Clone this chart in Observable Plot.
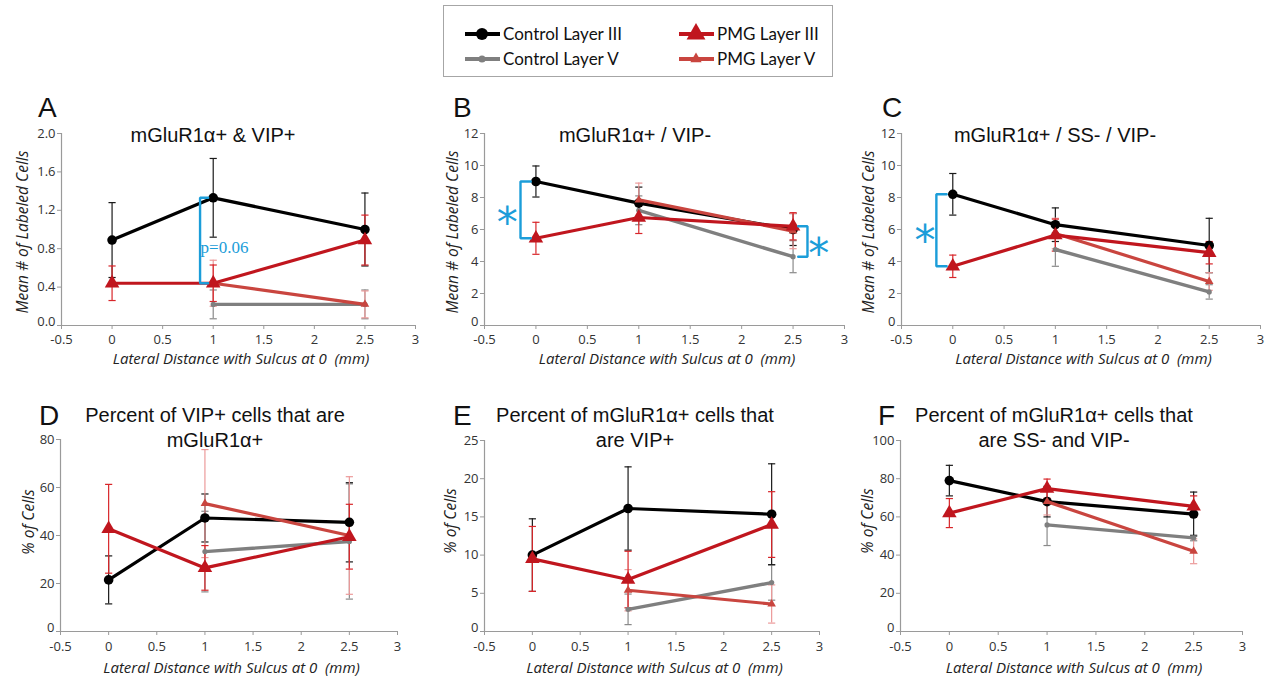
<!DOCTYPE html>
<html><head><meta charset="utf-8">
<script src="https://cdn.jsdelivr.net/npm/d3@7"></script>
<script src="https://cdn.jsdelivr.net/npm/@observablehq/plot@0.6"></script>
<style>
html,body{margin:0;padding:0;background:#fff;overflow:hidden;}
#root{position:relative;width:1270px;height:676px;font-family:"Liberation Sans",Arial,sans-serif;color:#111;}
.abs{position:absolute;white-space:pre;}
.letter{font-size:28px;line-height:28px;color:#111;}
.title{font-size:20px;line-height:25px;color:#111;text-align:center;transform:translateX(-50%);}
.ylab{font-family:"Open Sans",sans-serif;font-style:italic;font-size:15.5px;line-height:16px;color:#222;transform:translate(-50%,-50%) rotate(-90deg);}
.xlab{font-family:"Open Sans",sans-serif;font-style:italic;font-size:15px;line-height:16px;color:#222;transform:translate(-50%,-50%);}
.panel svg [aria-label^="x-axis"] path,.panel svg [aria-label^="y-axis"] path,
.panel svg [aria-label^="x-axis"] line,.panel svg [aria-label^="y-axis"] line{stroke:#9a9a9a;}
</style></head>
<body><div id="root"></div>
<script>
// ---------- data ----------
const distances = [0, 1, 2.5];
const seriesNames = ["Control Layer III", "Control Layer V", "PMG Layer III", "PMG Layer V"];
const seriesColors = ["#000000", "#7f7f7f", "#c0161e", "#c9453f"];
const errColors = ["#1a1a1a", "#8a8a8a", "#d8262a", "#ec9a9a"];
const seriesSymbols = ["circle", "circle", "triangle", "triangle"];
const markerR = [4.8, 2.6, 5.4, 3.2];
const lineWidths = [3.2, 3.4, 3.2, 3.2];
const xDomain = [-0.5, 3];
const xTicks = [-0.5, 0, 0.5, 1, 1.5, 2, 2.5, 3];

// Panel A: mGluR1a+ & VIP+
const aMeans = [[0.89, 1.33, 1.00], [null, 0.22, 0.22], [0.44, 0.44, 0.89], [null, 0.44, 0.22]];
const aErrs  = [[0.39, 0.41, 0.38], [null, 0.15, 0.15], [0.18, 0.19, 0.26], [null, 0.24, 0.14]];
const aTicks = [0, 0.4, 0.8, 1.2, 1.6, 2.0];
// Panel B: mGluR1a+ / VIP-
const bMeans = [[9.0, 7.65, 6.0], [null, 7.2, 4.3], [5.45, 6.75, 6.2], [null, 7.85, 5.9]];
const bErrs  = [[0.97, 1.0, 1.0], [null, 0.9, 1.0], [1.0, 1.0, 0.85], [null, 1.05, 1.1]];
const bTicks = [0, 2, 4, 6, 8, 10, 12];
// Panel C: mGluR1a+ / SS- / VIP-
const cMeans = [[8.2, 6.3, 5.0], [null, 4.75, 2.1], [3.7, 5.65, 4.55], [null, 5.75, 2.75]];
const cErrs  = [[1.3, 1.05, 1.7], [null, 1.05, 0.45], [0.7, 1.0, 0.7], [null, 0.95, 0.55]];
const cTicks = [0, 2, 4, 6, 8, 10, 12];
// Panel D: % of VIP+ cells that are mGluR1a+
const dMeans = [[21.5, 47.3, 45.5], [null, 33.3, 37.5], [42.8, 26.5, 39.5], [null, 53.3, 40.0]];
const dErrs  = [[10, 10, 16.5], [null, 16.8, 24], [18.5, 9.3, 13.5], [null, 22.5, 24.5]];
const dTicks = [0, 20, 40, 60, 80];
// Panel E: % of mGluR1a+ cells that are VIP+
const eMeans = [[10.0, 16.1, 15.35], [null, 2.9, 6.4], [9.5, 6.8, 14.0], [null, 5.4, 3.6]];
const eErrs  = [[4.75, 5.45, 6.6], [null, 2.0, 2.3], [4.25, 3.7, 4.3], [null, 2.7, 2.5]];
const eTicks = [0, 5, 10, 15, 20, 25];
// Panel F: % of mGluR1a+ cells that are SS- and VIP-
const fMeans = [[79, 68, 61.5], [null, 55.8, 49], [62, 74.8, 65.5], [null, 68, 42]];
const fErrs  = [[8, 8, 11.5], [null, 10.8, 1.5], [7.6, 5, 5.5], [null, 7, 6.5]];
const fTicks = [0, 20, 40, 60, 80, 100];

// significance annotations (bracket position on x, comparing [series, point] pairs)
const annColor = "#1b9dd9";
const aBrackets = [{at: 0.87, end: 0.95, from: [0, 1], to: [2, 1]}];
const bBrackets = [{at: -0.15, end: -0.05, from: [0, 0], to: [2, 0]}, {at: 2.64, end: 2.55, from: [2, 2], to: [1, 2]}];
const cBrackets = [{at: -0.16, end: -0.06, from: [0, 0], to: [2, 0]}];
const bStars = [{x: -0.28, y: 7.1}, {x: 2.75, y: 5.2}];
const cStars = [{x: -0.27, y: 6.0}];
const aPText = [{x: 0.875, y: 0.81, label: "p=0.06"}];

// ---------- helpers ----------
const root = document.getElementById("root");
function addDiv(cls, txt, left, top) {
  const d = document.createElement("div");
  d.className = "abs " + cls; d.textContent = txt;
  d.style.left = left + "px"; d.style.top = top + "px";
  root.appendChild(d); return d;
}
function rows(means, errs) {
  const out = [];
  means.forEach((arr, s) => arr.forEach((m, i) => {
    if (m != null) out.push({series: s, name: seriesNames[s], x: distances[i], y: m, lo: m - errs[s][i], hi: m + errs[s][i]});
  }));
  return out;
}
const capSymbol = {draw(ctx, size) { const r = Math.sqrt(size / Math.PI); ctx.moveTo(-r, 0); ctx.lineTo(r, 0); }};

function makePanel(p) {
  const mL = 62, mR = p.mR ?? 14, mT = 10, mB = 30;
  const W = p.fx1 - p.fx0 + mL + mR, H = p.fy1 - p.fy0 + mT + mB;
  const data = rows(p.means, p.errs);
  const fmt = p.yFmt || (d => String(d));
  const order = [1, 0, 3, 2];
  const marks = [
    Plot.ruleY([0], {stroke: "#9a9a9a", strokeWidth: 1.2}),
    Plot.ruleX([xDomain[0]], {stroke: "#9a9a9a", strokeWidth: 1.2}),
    // the y "0" label, nudged up slightly so it clears the first x tick label
    Plot.text([p.yTicks[0]], {x: () => xDomain[0], y: d => d, text: d => fmt(d), textAnchor: "end", dx: -6, dy: -4,
      fontSize: 13, fontFamily: "'Open Sans', sans-serif", fill: "#333"})
  ];
  for (const s of order) {
    const d = data.filter(r => r.series === s);
    marks.push(Plot.ruleX(d, {x: "x", y1: "lo", y2: "hi", stroke: errColors[s], strokeWidth: 1.2}));
    marks.push(Plot.dot(d, {x: "x", y: "lo", symbol: capSymbol, r: 3.6, stroke: errColors[s], strokeWidth: 1.2, fill: "none"}));
    marks.push(Plot.dot(d, {x: "x", y: "hi", symbol: capSymbol, r: 3.6, stroke: errColors[s], strokeWidth: 1.2, fill: "none"}));
  }
  for (const s of order) {
    const d = data.filter(r => r.series === s);
    marks.push(Plot.line(d, {x: "x", y: "y", stroke: seriesColors[s], strokeWidth: lineWidths[s]}));
    marks.push(Plot.dot(d, {x: "x", y: "y", symbol: seriesSymbols[s], r: markerR[s], fill: seriesColors[s], stroke: "none"}));
  }
  for (const b of (p.brackets || [])) {
    const top = p.means[b.from[0]][b.from[1]], bot = p.means[b.to[0]][b.to[1]];
    const pts = [{x: b.end, y: top}, {x: b.at, y: top}, {x: b.at, y: bot}, {x: b.end, y: bot}];
    marks.push(Plot.line(pts, {x: "x", y: "y", stroke: annColor, strokeWidth: 2.4, strokeLinejoin: "miter", curve: "linear"}));
  }
  if (p.stars) marks.push(Plot.text(p.stars, {x: "x", y: "y", text: () => "*", fill: annColor, fontSize: 42, fontFamily: "DejaVu Sans", dy: 12}));
  if (p.ptext) marks.push(Plot.text(p.ptext, {x: "x", y: "y", text: "label", fill: annColor, fontSize: 17, fontFamily: "Liberation Serif", textAnchor: "start"}));

  const chart = Plot.plot({
    width: W, height: H, marginLeft: mL, marginRight: mR, marginTop: mT, marginBottom: mB,
    style: {fontFamily: "'Open Sans', sans-serif", fontSize: "13px", color: "#333", background: "transparent", overflow: "visible"},
    x: {domain: xDomain, ticks: xTicks, tickFormat: d => String(d), label: null, tickSize: 4, tickPadding: p.xPad},
    y: {domain: [0, p.yTicks[p.yTicks.length - 1]], ticks: p.yTicks, tickFormat: d => (d === 0 ? "" : fmt(d)), label: null, tickSize: 4, tickPadding: 2},
    marks
  });
  const wrap = document.createElement("div");
  wrap.className = "abs panel";
  wrap.style.left = (p.fx0 - mL) + "px"; wrap.style.top = (p.fy0 - mT) + "px";
  wrap.appendChild(chart);
  root.appendChild(wrap);

  addDiv("letter", p.letter, p.letterX, p.letterY);
  addDiv("title", p.title, p.titleX, p.titleY);
  addDiv("ylab", p.ylab, p.ylabX, p.ylabY);
  addDiv("xlab", "Lateral Distance with Sulcus at 0  (mm)", (p.fx0 + p.fx1) / 2 + 3, p.xlabY);
}

const yTitleTop = "Mean # of Labeled Cells", yTitleBottom = "% of Cells";
makePanel({means: aMeans, errs: aErrs, yTicks: aTicks, yFmt: d => d.toFixed(1), fx0: 61, fx1: 415, fy0: 133, fy1: 325, xPad: 5,
  brackets: aBrackets, ptext: aPText, letter: "A", letterX: 38, letterY: 94, title: "mGluR1\u03b1+ & VIP+", titleX: 213, titleY: 123,
  ylab: yTitleTop, ylabX: 22, ylabY: 232, xlabY: 358});
makePanel({means: bMeans, errs: bErrs, yTicks: bTicks, fx0: 484, fx1: 844, fy0: 133, fy1: 325, xPad: 5,
  brackets: bBrackets, stars: bStars, letter: "B", letterX: 453, letterY: 94, title: "mGluR1\u03b1+ / VIP-", titleX: 635, titleY: 123,
  ylab: yTitleTop, ylabX: 452, ylabY: 232, xlabY: 358});
makePanel({means: cMeans, errs: cErrs, yTicks: cTicks, fx0: 901, fx1: 1260, fy0: 133, fy1: 325, xPad: 5, mR: 9,
  brackets: cBrackets, stars: cStars, letter: "C", letterX: 882, letterY: 94, title: "mGluR1\u03b1+ / SS- / VIP-", titleX: 1055, titleY: 123,
  ylab: yTitleTop, ylabX: 868, ylabY: 232, xlabY: 358});
makePanel({means: dMeans, errs: dErrs, yTicks: dTicks, fx0: 60, fx1: 397, fy0: 439, fy1: 631, xPad: 6,
  letter: "D", letterX: 39, letterY: 402, title: "Percent of VIP+ cells that are\nmGluR1\u03b1+", titleX: 215, titleY: 403,
  ylab: yTitleBottom, ylabX: 28, ylabY: 522, xlabY: 667});
makePanel({means: eMeans, errs: eErrs, yTicks: eTicks, fx0: 484, fx1: 819, fy0: 440, fy1: 631, xPad: 6,
  letter: "E", letterX: 453, letterY: 402, title: "Percent of mGluR1\u03b1+ cells that\nare VIP+", titleX: 635, titleY: 403,
  ylab: yTitleBottom, ylabX: 450, ylabY: 521, xlabY: 667});
makePanel({means: fMeans, errs: fErrs, yTicks: fTicks, fx0: 900, fx1: 1242, fy0: 440, fy1: 631, xPad: 6,
  letter: "F", letterX: 878, letterY: 402, title: "Percent of mGluR1\u03b1+ cells that\nare SS- and VIP-", titleX: 1054, titleY: 403,
  ylab: yTitleBottom, ylabX: 867, ylabY: 521, xlabY: 667});

// ---------- legend ----------
(function legend() {
  const svg = d3.create("svg").attr("width", 391).attr("height", 73)
    .style("position", "absolute").style("left", "443px").style("top", "5px").style("overflow", "visible");
  svg.append("rect").attr("x", 0.5).attr("y", 0.5).attr("width", 389).attr("height", 71)
    .attr("fill", "#fff").attr("stroke", "#a6a6a6");
  const pos = [[22, 29], [22, 54], [236, 29], [236, 54]];
  const legR = [6, 3.6, 7, 4.2];
  seriesNames.forEach((name, s) => {
    const [x0, y0] = pos[s];
    const g = svg.append("g");
    g.append("line").attr("x1", x0).attr("x2", x0 + 35).attr("y1", y0).attr("y2", y0)
      .attr("stroke", seriesColors[s]).attr("stroke-width", 4);
    const type = seriesSymbols[s] === "circle" ? d3.symbolCircle : d3.symbolTriangle;
    g.append("path").attr("d", d3.symbol(type, Math.PI * legR[s] * legR[s])())
      .attr("transform", `translate(${x0 + 17},${y0})`).attr("fill", seriesColors[s]);
    g.append("text").attr("x", x0 + 38).attr("y", y0).attr("dy", "0.35em")
      .attr("font-family", "Lato, sans-serif").attr("font-size", 17).attr("fill", "#111").text(name);
  });
  root.appendChild(svg.node());
})();
</script>
</body></html>
